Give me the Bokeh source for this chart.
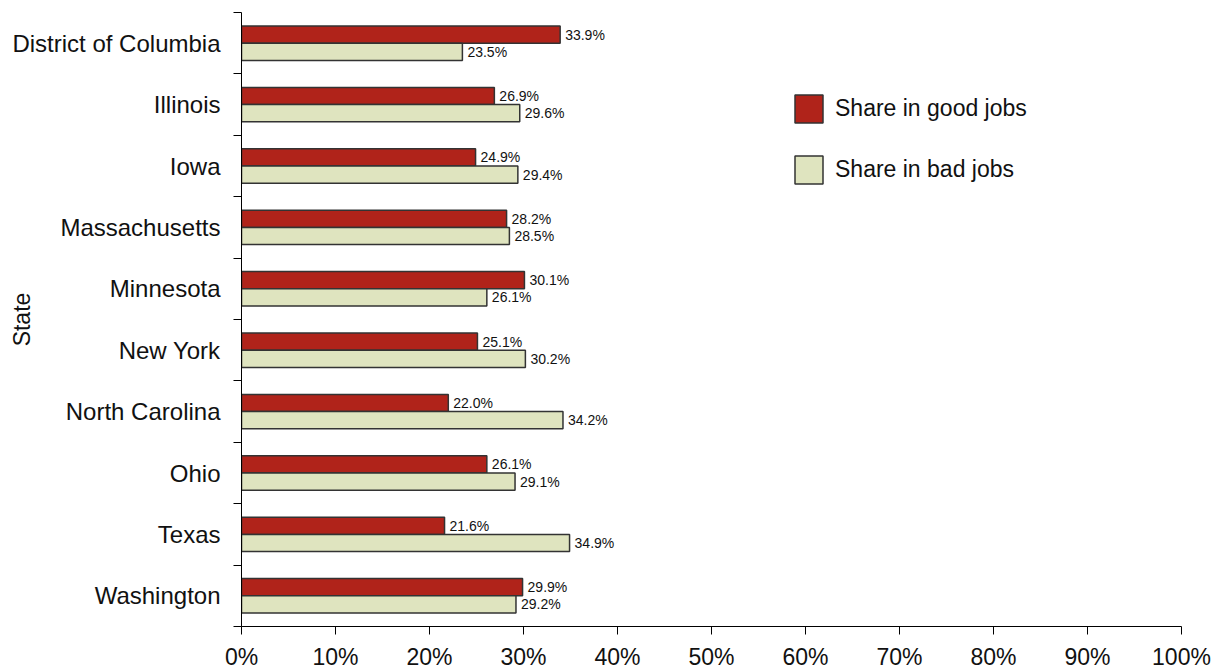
from bokeh.plotting import figure
from bokeh.models import (ColumnDataSource, FixedTicker, PrintfTickFormatter, Legend,
                          LegendItem)
from bokeh.transform import dodge
from bokeh.core.properties import value
from bokeh.embed import file_html
from bokeh.resources import INLINE

states = ["District of Columbia", "Illinois", "Iowa", "Massachusetts", "Minnesota",
          "New York", "North Carolina", "Ohio", "Texas", "Washington"]
good_jobs = [33.9, 26.9, 24.9, 28.2, 30.1, 25.1, 22.0, 26.1, 21.6, 29.9]
bad_jobs = [23.5, 29.6, 29.4, 28.5, 26.1, 30.2, 34.2, 29.1, 34.9, 29.2]
x_ticks = [0, 10, 20, 30, 40, 50, 60, 70, 80, 90, 100]
series_names = ["Share in good jobs", "Share in bad jobs"]

RED = "#B0231A"
BEIGE = "#DFE4BF"
EDGE = "#333333"
FONT = "Liberation Sans"
LBLFONT = "Liberation Sans"

n = len(states)
ypos = [n - 0.5 - i for i in range(n)]
src = ColumnDataSource(dict(
    state=states, y=ypos, good=good_jobs, bad=bad_jobs,
    good_lbl=[f"{v:.1f}%" for v in good_jobs],
    bad_lbl=[f"{v:.1f}%" for v in bad_jobs],
))

p = figure(width=1221, height=672, x_range=(0, 100), y_range=(0, n),
           output_backend="svg", toolbar_location=None,
           min_border_left=241, min_border_right=40, min_border_top=12,
           min_border_bottom=45)
p.outline_line_color = None
p.grid.visible = False
p.background_fill_color = "white"

bh = 0.28
r_good = p.hbar(y=dodge("y", bh / 2), left=0, right="good", height=bh, source=src,
                fill_color=RED, line_color=EDGE, line_width=1.5)
r_bad = p.hbar(y=dodge("y", -bh / 2), left=0, right="bad", height=bh, source=src,
               fill_color=BEIGE, line_color=EDGE, line_width=1.5)

p.text(x="good", y=dodge("y", bh / 2), text="good_lbl", source=src, x_offset=5,
       text_baseline="middle", text_align="left", text_font=value(LBLFONT),
       text_font_size="14px", text_color="#111111")
p.text(x="bad", y=dodge("y", -bh / 2), text="bad_lbl", source=src, x_offset=5,
       text_baseline="middle", text_align="left", text_font=value(LBLFONT),
       text_font_size="14px", text_color="#111111")

# y axis: labels at band centres, ticks at band boundaries
yax = p.yaxis[0]
yax.ticker = FixedTicker(ticks=ypos, minor_ticks=list(range(n + 1)))
yax.major_label_overrides = {y: s for y, s in zip(ypos, states)}
yax.major_tick_out = 8
yax.major_tick_in = 0
yax.major_tick_line_alpha = 0
yax.minor_tick_out = 8
yax.minor_tick_in = 0
yax.minor_tick_line_color = "black"
yax.axis_line_color = "black"
yax.major_label_standoff = 13
yax.major_label_text_font = FONT
yax.major_label_text_font_size = "24px"
yax.major_label_text_color = "#111111"
yax.axis_label = "State"
yax.axis_label_standoff = -26
yax.axis_label_text_font = FONT
yax.axis_label_text_font_size = "23px"
yax.axis_label_text_font_style = "normal"
yax.axis_label_text_color = "#111111"

xax = p.xaxis[0]
xax.ticker = FixedTicker(ticks=x_ticks, minor_ticks=[])
xax.formatter = PrintfTickFormatter(format="%d%%")
xax.major_tick_out = 8
xax.major_tick_in = 0
xax.major_tick_line_color = "black"
xax.axis_line_color = "black"
xax.major_label_standoff = 9
xax.major_label_text_font = FONT
xax.major_label_text_font_size = "23px"
xax.major_label_text_color = "#111111"

legend = Legend(items=[LegendItem(label=series_names[0], renderers=[r_good]),
                       LegendItem(label=series_names[1], renderers=[r_bad])],
                location=(550, 439), orientation="vertical",
                glyph_width=35, glyph_height=35, label_height=35, spacing=26,
                label_standoff=9, padding=0, margin=0,
                border_line_color=None, background_fill_alpha=0,
                label_text_font=FONT, label_text_font_size="23px",
                label_text_color="#111111")
p.add_layout(legend)

open("out.html", "w").write(file_html(p, INLINE))
